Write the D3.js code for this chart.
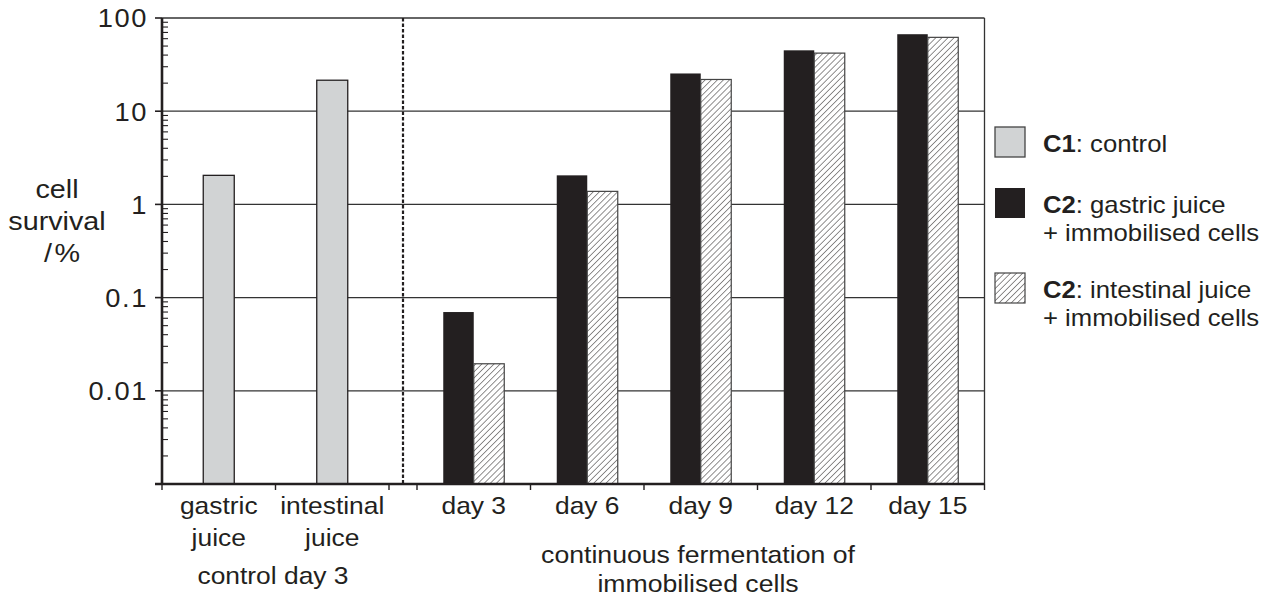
<!DOCTYPE html>
<html><head><meta charset="utf-8">
<script src="https://cdn.jsdelivr.net/npm/d3@7"></script>
<style>
html,body{margin:0;padding:0;background:#fff;}
text{font-family:"Liberation Sans",Arial,Helvetica,sans-serif;fill:#231f20;}
</style></head>
<body>
<svg id="chart" width="1277" height="600"></svg>
<script>
// ---- data ----
const controlCategories = ["gastric juice", "intestinal juice"];
const controlValues = [2.05, 21.5];
const dayCategories = ["day 3", "day 6", "day 9", "day 12", "day 15"];
const gastricImmobilised = [0.07, 2.05, 25.4, 45, 67];
const intestinalImmobilised = [0.0195, 1.38, 21.9, 42, 62];
const yTickValues = [100, 10, 1, 0.1, 0.01];
const yTickLabels = ["100", "10", "1", "0.1", "0.01"];
const legendItems = [
  {key: "C1", rest: ": control", line2: null, style: "control"},
  {key: "C2", rest: ": gastric juice", line2: "+ immobilised cells", style: "gastric"},
  {key: "C2", rest: ": intestinal juice", line2: "+ immobilised cells", style: "intestinal"}
];

(function () {
const ink = "#231f20";
const svg = d3.select("#chart");
const defs = svg.append("defs");
const hs = 4.3;
defs.append("pattern").attr("id", "hatch").attr("patternUnits", "userSpaceOnUse")
  .attr("width", hs).attr("height", hs).attr("patternTransform", "rotate(45)")
  .call(p => {
    p.append("rect").attr("width", hs).attr("height", hs).attr("fill", "#fff");
    p.append("line").attr("x1", 0).attr("y1", 0).attr("x2", 0).attr("y2", hs)
      .attr("stroke", ink).attr("stroke-width", 1.0);
  });

// text helper: horizontally widened text like the reference typeface
function txt(parent, x, y, str, size, sx, anchor) {
  const g = parent.append("g").attr("transform", `translate(${x},${y}) scale(${sx},1)`);
  return g.append("text").attr("x", 0).attr("y", 0).attr("font-size", size)
    .attr("text-anchor", anchor || "middle").text(str);
}

const pLeft = 162, pRight = 984.5, pTop = 18, pBottom = 484;
const y = d3.scaleLog().domain([0.001, 100]).range([pBottom, pTop]);
const xCtrl = d3.scaleBand().domain(controlCategories).range([162, 389]);
const xDay = d3.scaleBand().domain(dayCategories).range([417, 984.5]);
const barW = 30.5;

// gridlines
svg.append("g").selectAll("line").data(yTickValues.slice(1)).join("line")
  .attr("x1", pLeft).attr("x2", pRight).attr("y1", d => y(d)).attr("y2", d => y(d))
  .attr("stroke", "#333").attr("stroke-width", 1.3);

// top + right frame
svg.append("line").attr("x1", pLeft).attr("x2", pRight).attr("y1", pTop).attr("y2", pTop)
  .attr("stroke", "#333").attr("stroke-width", 1.3);
svg.append("line").attr("x1", pRight).attr("x2", pRight).attr("y1", pTop).attr("y2", pBottom)
  .attr("stroke", "#333").attr("stroke-width", 1.3);

// control bars
svg.append("g").selectAll("rect").data(controlValues).join("rect")
  .attr("x", (d, i) => xCtrl(controlCategories[i]) + xCtrl.bandwidth() / 2 - 15.5)
  .attr("width", 31)
  .attr("y", d => y(d)).attr("height", d => pBottom - y(d))
  .attr("fill", "#d1d3d4").attr("stroke", ink).attr("stroke-width", 1.3);

// day bars
svg.append("g").selectAll("rect").data(gastricImmobilised).join("rect")
  .attr("x", (d, i) => xDay(dayCategories[i]) + xDay.bandwidth() / 2 - barW)
  .attr("width", barW)
  .attr("y", d => y(d)).attr("height", d => pBottom - y(d))
  .attr("fill", ink);
svg.append("g").selectAll("rect").data(intestinalImmobilised).join("rect")
  .attr("x", (d, i) => xDay(dayCategories[i]) + xDay.bandwidth() / 2)
  .attr("width", barW)
  .attr("y", d => y(d)).attr("height", d => pBottom - y(d))
  .attr("fill", "url(#hatch)").attr("stroke", "#444").attr("stroke-width", 1.2);

// dashed separator
svg.append("line").attr("x1", 403).attr("x2", 403).attr("y1", pTop).attr("y2", pBottom)
  .attr("stroke", ink).attr("stroke-width", 2.2).attr("stroke-dasharray", "3.5,2");

// y axis: major ticks left with labels, minor ticks right
const majors = [100, 10, 1, 0.1, 0.01, 0.001];
svg.append("g").selectAll("line").data(majors).join("line")
  .attr("x1", 155).attr("x2", pLeft).attr("y1", d => y(d)).attr("y2", d => y(d))
  .attr("stroke", ink).attr("stroke-width", 1.6);
const minors = [];
[0.001, 0.01, 0.1, 1, 10].forEach(b => { for (let k = 2; k <= 9; k++) minors.push(b * k); });
svg.append("g").selectAll("line").data(minors).join("line")
  .attr("x1", pLeft).attr("x2", pLeft + 6).attr("y1", d => y(d)).attr("y2", d => y(d))
  .attr("stroke", ink).attr("stroke-width", 1.1);
svg.append("line").attr("x1", pLeft).attr("x2", pLeft).attr("y1", pTop).attr("y2", pBottom + 1)
  .attr("stroke", ink).attr("stroke-width", 2.6);
yTickValues.forEach((v, i) => {
  txt(svg, 148, y(v), yTickLabels[i], 26, 1.05, "end")
    .attr("dy", "0.36em").attr("letter-spacing", 1.5);
});

// x axis baseline and ticks
svg.append("line").attr("x1", 155).attr("x2", pRight).attr("y1", pBottom).attr("y2", pBottom)
  .attr("stroke", ink).attr("stroke-width", 2.6);
const xTickPos = [xCtrl.range()[0], ...controlCategories.map(c => xCtrl(c) + xCtrl.bandwidth()),
  ...dayCategories.map(c => xDay(c)), xDay.range()[1]];
svg.append("g").selectAll("line").data(xTickPos).join("line")
  .attr("x1", d => d).attr("x2", d => d).attr("y1", pBottom).attr("y2", pBottom + 6)
  .attr("stroke", ink).attr("stroke-width", 1.4);

// category labels
const ctrlLabelLines = [["gastric", "juice"], ["intestinal", "juice"]];
controlCategories.forEach((c, i) => {
  const cx = xCtrl(c) + xCtrl.bandwidth() / 2;
  ctrlLabelLines[i].forEach((l, j) => txt(svg, cx, 514 + j * 32, l, 24, 1.1));
});
dayCategories.forEach(d => txt(svg, xDay(d) + xDay.bandwidth() / 2, 514, d, 24, 1.1));

txt(svg, 273, 584, "control day 3", 24, 1.1);
txt(svg, 698, 563, "continuous fermentation of", 24, 1.11);
txt(svg, 698, 592, "immobilised cells", 24, 1.11);

// y-axis title
[["cell", 198, 57], ["survival", 230, 57], ["/\u200A%", 262, 62]].forEach(([t, yy, xx]) =>
  txt(svg, xx, yy, t, 25, 1.15));

// legend
const legY = [127, 188, 273];
legendItems.forEach((it, i) => {
  const g = svg.append("g");
  const r = g.append("rect").attr("x", 995).attr("y", legY[i]).attr("width", 30).attr("height", 30);
  if (it.style === "control") r.attr("fill", "#d1d3d4").attr("stroke", "#444").attr("stroke-width", 1.3);
  else if (it.style === "gastric") r.attr("fill", ink);
  else r.attr("fill", "url(#hatch)").attr("stroke", "#444").attr("stroke-width", 1.2);
  const t = txt(g, 1043, legY[i] + 25, "", 24, 1.07, "start");
  t.append("tspan").attr("font-weight", "bold").text(it.key);
  t.append("tspan").text(it.rest);
  if (it.line2) txt(g, 1043, legY[i] + 53, it.line2, 24, 1.07, "start");
});
})();
</script>
</body></html>
